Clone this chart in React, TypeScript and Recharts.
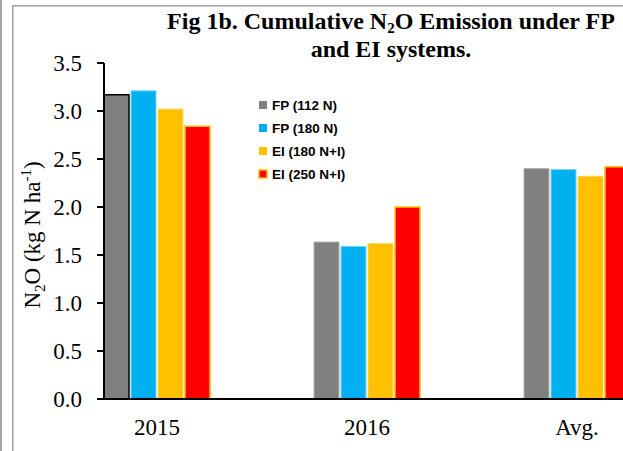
import React from 'react';
import { BarChart, Bar, XAxis, YAxis, Cell } from 'recharts';

const categories = ['2015', '2016', 'Avg.'];
const fp112 = [3.17, 1.635, 2.4];
const fp180 = [3.21, 1.59, 2.39];
const ei180 = [3.02, 1.62, 2.32];
const ei250 = [2.84, 2.0, 2.42];
const seriesNames = ['FP (112 N)', 'FP (180 N)', 'EI (180 N+I)', 'EI (250 N+I)'];
const yTicks = [0, 0.5, 1, 1.5, 2, 2.5, 3, 3.5];

const seriesStyle = [
  { key: 'fp112', fill: '#808080', stroke: '#b0b0b0' },
  { key: 'fp180', fill: '#00B0F0', stroke: '#7fd4f5' },
  { key: 'ei180', fill: '#FFC000', stroke: '#ffd966' },
  { key: 'ei250', fill: '#FF0000', stroke: '#FFC000' },
];

const data = categories.map((c, i) => ({
  cat: c,
  fp112: fp112[i],
  fp180: fp180[i],
  ei180: ei180[i],
  ei250: ei250[i],
}));

const SERIF = '"Liberation Serif", "Times New Roman", serif';

export default function App() {
  return (
    <div
      style={{
        position: 'absolute',
        left: 0,
        top: 0,
        width: 623,
        height: 451,
        overflow: 'hidden',
        background: '#fff',
      }}
    >
      <div style={{ position: 'absolute', left: 0, top: 0 }}>
        <BarChart
          width={690}
          height={451}
          data={data}
          margin={{ top: 63, right: 8, bottom: 0, left: 0 }}
          barSize={25}
          barGap={2}
        >
          <XAxis
            dataKey="cat"
            padding={{ left: -52, right: 0 }}
            height={52}
            tickLine={false}
            axisLine={{ stroke: '#000', strokeWidth: 2 }}
            tickMargin={14}
            tick={{ fontFamily: SERIF, fontSize: 23, fill: '#000' }}
          />
          <YAxis
            width={104}
            domain={[0, 3.5]}
            ticks={yTicks}
            interval={0}
            tickFormatter={(v: number) => v.toFixed(1)}
            tickSize={7}
            tickMargin={15}
            axisLine={{ stroke: '#000', strokeWidth: 2 }}
            tickLine={{ stroke: '#000', strokeWidth: 2 }}
            tick={{ fontFamily: SERIF, fontSize: 23, fill: '#000' }}
          />
          {seriesStyle.map((s, si) => (
            <Bar
              key={s.key}
              dataKey={s.key}
              name={seriesNames[si]}
              fill={s.fill}
              stroke={s.stroke}
              strokeWidth={si === 3 ? 1.5 : 1}
              isAnimationActive={false}
            >
              {data.map((d, i) => (
                <Cell
                  key={i}
                  stroke={si === 0 && i === 0 ? '#000' : s.stroke}
                  strokeWidth={si === 0 && i === 0 ? 1.5 : si === 3 ? 1.5 : 1}
                />
              ))}
            </Bar>
          ))}
        </BarChart>
      </div>
      <svg
        width={623}
        height={451}
        style={{ position: 'absolute', left: 0, top: 0, pointerEvents: 'none' }}
      >
        <rect x={0} y={0} width={2} height={451} fill="#a6a6a6" />
        <path d="M12.75 451 V5.75 H623" fill="none" stroke="#a0a0a0" strokeWidth={1.5} />
        <text
          x={391}
          y={29}
          textAnchor="middle"
          fontFamily={SERIF}
          fontWeight="bold"
          fontSize={24}
          fill="#000"
        >
          Fig 1b. Cumulative N
          <tspan fontSize={15} dy={4}>2</tspan>
          <tspan dy={-4}>O Emission under FP</tspan>
        </text>
        <text
          x={391}
          y={57}
          textAnchor="middle"
          fontFamily={SERIF}
          fontWeight="bold"
          fontSize={24}
          fill="#000"
        >
          and EI systems.
        </text>
        <text
          transform="translate(40 235) rotate(-90)"
          textAnchor="middle"
          fontFamily={SERIF}
          fontSize={23}
          fill="#000"
        >
          N<tspan fontSize={15} dy={5}>2</tspan>
          <tspan dy={-5}>O (kg N ha</tspan>
          <tspan fontSize={15} dy={-9}>-1</tspan>
          <tspan dy={9}>)</tspan>
        </text>
        {seriesNames.map((n, i) => {
          const cy = 105 + i * 23;
          const s = seriesStyle[i];
          return (
            <g key={n}>
              <rect
                x={259}
                y={cy - 4}
                width={8}
                height={8}
                fill={s.fill}
                stroke={i === 3 ? '#FFC000' : 'none'}
                strokeWidth={1.5}
              />
              <text
                x={272}
                y={cy + 4.5}
                fontFamily='"Liberation Sans", Arial, sans-serif'
                fontWeight="bold"
                fontSize={13.5}
                fill="#000"
              >
                {n}
              </text>
            </g>
          );
        })}
      </svg>
    </div>
  );
}
